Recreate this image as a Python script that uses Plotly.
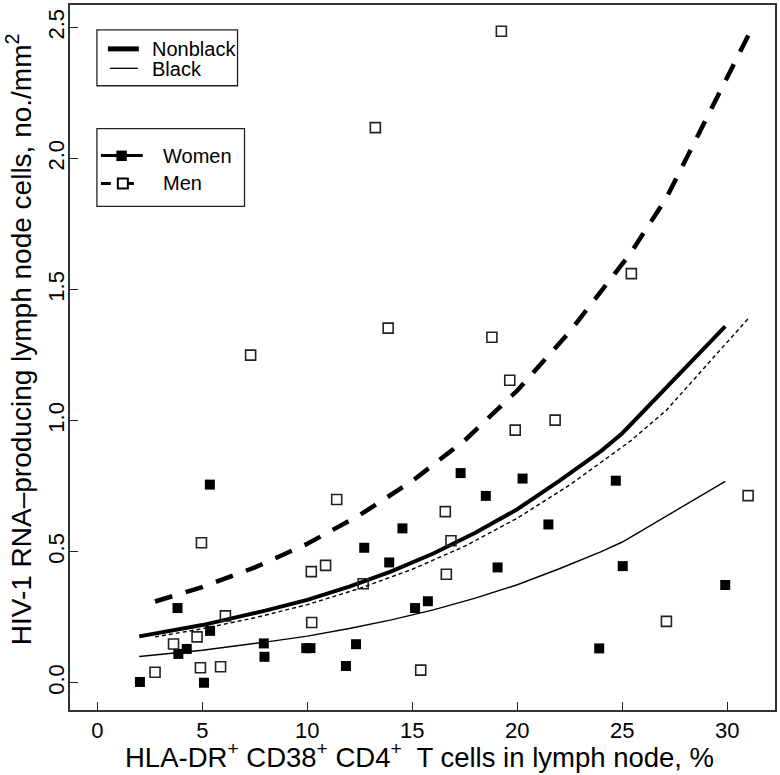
import plotly.graph_objects as go

# ---------------- data ----------------
women_x = [2.03, 3.82, 3.86, 4.26, 5.08, 5.36, 5.37, 7.93, 7.96, 9.95, 10.15, 11.84,
           12.32, 12.71, 13.90, 14.53, 15.13, 15.74, 17.30, 18.50, 19.06, 20.25,
           21.48, 23.90, 24.69, 25.02, 29.90]
women_y = [0.003, 0.285, 0.110, 0.129, 0.000, 0.756, 0.198, 0.150, 0.099, 0.132, 0.132, 0.064,
           0.147, 0.515, 0.459, 0.589, 0.285, 0.311, 0.800, 0.713, 0.440, 0.779,
           0.604, 0.131, 0.771, 0.445, 0.373]

men_x = [2.75, 3.63, 4.75, 4.91, 4.96, 5.87, 6.10, 7.30, 10.19, 10.21, 10.87, 11.40,
         12.66, 13.24, 13.85, 15.40, 16.57, 16.62, 16.84, 18.79, 19.24, 19.64, 19.90,
         21.80, 25.43, 27.10, 30.99]
men_y = [0.040, 0.148, 0.175, 0.057, 0.534, 0.061, 0.255, 1.250, 0.424, 0.230, 0.448, 0.699,
         0.378, 2.118, 1.353, 0.048, 0.653, 0.414, 0.542, 1.318, 2.486, 1.154, 0.964,
         1.002, 1.561, 0.234, 0.714]

# fitted curves
curve_women_x = [2.0, 5.0, 8.0, 10.0, 12.0, 14.0, 16.0, 18.0, 20.0, 22.0, 24.0, 25.0, 29.9]
nonblack_women = [0.177, 0.220, 0.275, 0.316, 0.367, 0.425, 0.493, 0.572, 0.662, 0.770, 0.885, 0.952, 1.360]
black_women = [0.100, 0.124, 0.155, 0.178, 0.207, 0.240, 0.278, 0.323, 0.374, 0.435, 0.500, 0.537, 0.768]

curve_men_x = [2.75, 5.0, 7.5, 10.0, 12.5, 15.0, 17.5, 20.0, 22.5, 25.4, 27.1, 31.0]
nonblack_men = [0.310, 0.365, 0.440, 0.530, 0.640, 0.770, 0.925, 1.115, 1.340, 1.640, 1.850, 2.470]
black_men = [0.175, 0.206, 0.248, 0.298, 0.360, 0.433, 0.521, 0.628, 0.755, 0.923, 1.040, 1.390]

x_ticks = [0, 5, 10, 15, 20, 25, 30]
y_ticks = [0.0, 0.5, 1.0, 1.5, 2.0, 2.5]

x_title = "HLA-DR<sup>+</sup> CD38<sup>+</sup> CD4<sup>+</sup>  T cells in lymph node, %"
y_title = "HIV-1 RNA\u2013producing lymph node cells, no./mm<sup>2</sup>"
legend1 = ["Nonblack", "Black"]
legend2 = ["Women", "Men"]

# ---------------- layout geometry ----------------
W, H = 780, 775
L, R, T, B = 70, 3, 3, 65
PW, PH = W - L - R, H - T - B
FONT = "Liberation Sans, Arial, Helvetica, sans-serif"


def px(xp):
    return (xp - L) / PW


def py(yp):
    return (H - B - yp) / PH


fig = go.Figure()

# curves
fig.add_trace(go.Scatter(x=curve_women_x, y=black_women, mode="lines",
                         line=dict(color="black", width=1.4), showlegend=False))
fig.add_trace(go.Scatter(x=curve_men_x, y=black_men, mode="lines",
                         line=dict(color="black", width=1.4, dash="4px,3px"), showlegend=False))
fig.add_trace(go.Scatter(x=curve_women_x, y=nonblack_women, mode="lines",
                         line=dict(color="black", width=4), showlegend=False))
fig.add_trace(go.Scatter(x=curve_men_x, y=nonblack_men, mode="lines",
                         line=dict(color="black", width=4.5, dash="18px,14px"), showlegend=False))

# points
fig.add_trace(go.Scatter(x=women_x, y=women_y, mode="markers",
                         marker=dict(symbol="square", size=10, color="black", line=dict(width=0)),
                         showlegend=False))
fig.add_trace(go.Scatter(x=men_x, y=men_y, mode="markers",
                         marker=dict(symbol="square-open", size=10, color="#222",
                                     line=dict(width=1.6, color="#222")),
                         showlegend=False))

shapes = []
annotations = []

# legend box 1
shapes.append(dict(type="rect", xref="paper", yref="paper",
                   x0=px(97), x1=px(238), y0=py(84), y1=py(28),
                   line=dict(color="#222", width=1.3), fillcolor="white", layer="above"))
shapes.append(dict(type="line", xref="paper", yref="paper",
                   x0=px(108), x1=px(139), y0=py(47), y1=py(47),
                   line=dict(color="black", width=5)))
shapes.append(dict(type="line", xref="paper", yref="paper",
                   x0=px(110), x1=px(138), y0=py(66.5), y1=py(66.5),
                   line=dict(color="black", width=1.3)))
for txt, yy in zip(legend1, [47, 67]):
    annotations.append(dict(text=txt, xref="paper", yref="paper", x=px(150), y=py(yy),
                            xanchor="left", yanchor="middle", showarrow=False,
                            font=dict(family=FONT, size=20, color="black")))

# legend box 2
shapes.append(dict(type="rect", xref="paper", yref="paper",
                   x0=px(97), x1=px(245), y0=py(205), y1=py(127),
                   line=dict(color="#222", width=1.3), fillcolor="white", layer="above"))
shapes.append(dict(type="line", xref="paper", yref="paper",
                   x0=px(101), x1=px(143), y0=py(154), y1=py(154),
                   line=dict(color="black", width=3)))
shapes.append(dict(type="rect", xref="paper", yref="paper",
                   x0=px(116.5), x1=px(127), y0=py(159.5), y1=py(149),
                   line=dict(color="black", width=0), fillcolor="black"))
shapes.append(dict(type="line", xref="paper", yref="paper",
                   x0=px(101), x1=px(111), y0=py(182), y1=py(182),
                   line=dict(color="black", width=3)))
shapes.append(dict(type="line", xref="paper", yref="paper",
                   x0=px(128), x1=px(134), y0=py(182), y1=py(182),
                   line=dict(color="black", width=3)))
shapes.append(dict(type="rect", xref="paper", yref="paper",
                   x0=px(118), x1=px(128), y0=py(187), y1=py(177),
                   line=dict(color="black", width=2), fillcolor="white"))
for txt, yy in zip(legend2, [154, 182]):
    annotations.append(dict(text=txt, xref="paper", yref="paper", x=px(161), y=py(yy),
                            xanchor="left", yanchor="middle", showarrow=False,
                            font=dict(family=FONT, size=20, color="black")))

# axis titles
annotations.append(dict(text=x_title, xref="paper", yref="paper", x=px(420), y=py(756),
                        xanchor="center", yanchor="middle", showarrow=False,
                        font=dict(family=FONT, size=27.5, color="black")))
annotations.append(dict(text=y_title, xref="paper", yref="paper", x=px(19), y=py(338),
                        xanchor="center", yanchor="middle", showarrow=False, textangle=-90,
                        font=dict(family=FONT, size=28, color="black")))

fig.update_layout(
    width=W, height=H,
    margin=dict(l=L, r=R, t=T, b=B),
    paper_bgcolor="white", plot_bgcolor="white",
    showlegend=False,
    shapes=shapes, annotations=annotations,
    font=dict(family=FONT, size=21, color="black"),
)
fig.update_xaxes(range=[-1.30, 32.27], tickmode="array", tickvals=x_ticks,
                 ticktext=[str(v) for v in x_ticks],
                 ticks="inside", ticklen=8, tickwidth=1.2, tickcolor="#222",
                 showline=True, mirror=True, linecolor="#333", linewidth=1.5,
                 showgrid=False, zeroline=False,
                 tickfont=dict(family=FONT, size=22, color="black"))
fig.update_yaxes(range=[-0.104, 2.586], tickmode="array", tickvals=y_ticks,
                 ticktext=[f"{v:.1f}" for v in y_ticks],
                 ticks="inside", ticklen=8, tickwidth=1.2, tickcolor="#222", tickangle=-90,
                 ticklabelstandoff=-5,
                 showline=True, mirror=True, linecolor="#333", linewidth=1.5,
                 showgrid=False, zeroline=False,
                 tickfont=dict(family=FONT, size=22, color="black"))

fig.write_html("out.html", config={"displayModeBar": False},
               post_script="document.body.style.margin='0px';document.body.style.overflow='hidden';")
